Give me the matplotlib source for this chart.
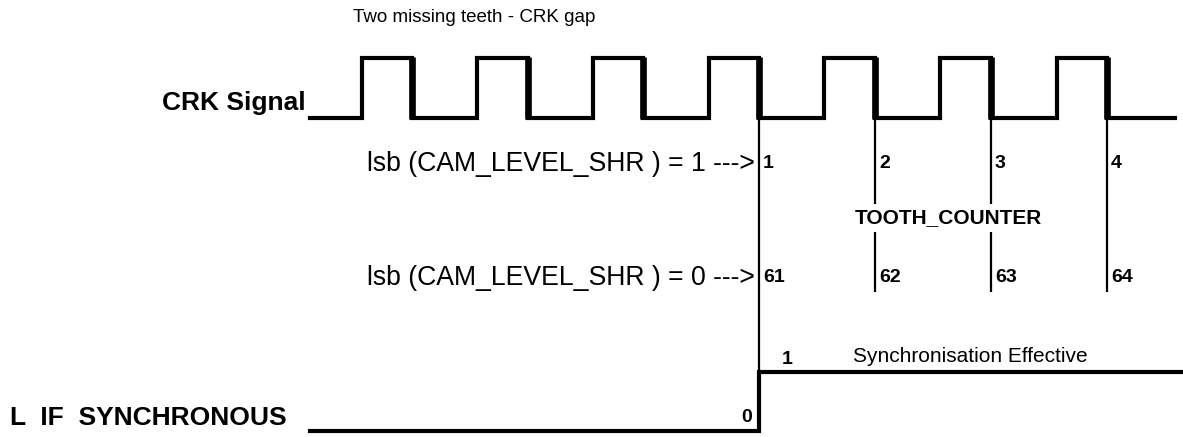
import matplotlib.pyplot as plt
from matplotlib.patches import Rectangle

# diagramme temporel CRK / synchronisation (axe x en "temps" = pixels du dessin)
crk_debut, crk_fin = 310, 1175
fronts_montants = [362, 477, 593, 709, 824, 940, 1057]
fronts_descendants = [412, 528, 643, 759, 875, 991, 1107]
idx_sync = 3  # premier front descendant apres le gap

compteur_lsb1 = ["1", "2", "3", "4"]
compteur_lsb0 = ["61", "62", "63", "64"]

sync_debut, sync_fin = 310, 1183
sync_niveaux = [0, 1]

# niveaux verticaux (y vers le bas)
crk_bas, crk_haut = 118, 58
sync_bas, sync_haut = 431, 372

plt.rcParams['font.family'] = ['Liberation Sans', 'DejaVu Sans']

fig = plt.figure(figsize=(11.83, 4.37), dpi=100)
ax = fig.add_axes([0, 0, 1, 1])
ax.set_xlim(0, 1183)
ax.set_ylim(437, 0)
ax.axis('off')

# signal CRK
xs, ys = [crk_debut], [crk_bas]
for r, f in zip(fronts_montants, fronts_descendants):
    xs += [r, r, f, f]
    ys += [crk_bas, crk_haut, crk_haut, crk_bas]
xs.append(crk_fin)
ys.append(crk_bas)
ax.plot(xs, ys, color='black', lw=3, solid_joinstyle='miter')
# fronts descendants plus epais
ax.vlines(fronts_descendants, crk_haut - 1, crk_bas + 1, color='black', lw=4.8)

# traits de comptage
t_sync = fronts_descendants[idx_sync]
ax.vlines(t_sync, crk_bas, sync_haut, color='black', lw=1.6)
ax.vlines(fronts_descendants[idx_sync + 1:], crk_bas, 292, color='black', lw=1.6)

for t, a, b in zip(fronts_descendants[idx_sync:], compteur_lsb1, compteur_lsb0):
    ax.text(t + 4, 164, a, fontsize=14, fontweight='bold', ha='left', va='center')
    ax.text(t + 4, 278, b, fontsize=14, fontweight='bold', ha='left', va='center')

ax.text(948, 218, "TOOTH_COUNTER", fontsize=15, fontweight='bold', ha='center', va='center',
        bbox=dict(facecolor='white', edgecolor='none', pad=3))

ax.text(t_sync - 4, 164, "lsb (CAM_LEVEL_SHR ) = 1 --->", fontsize=19.2, ha='right', va='center')
ax.text(t_sync - 4, 278, "lsb (CAM_LEVEL_SHR ) = 0 --->", fontsize=19.2, ha='right', va='center')

# signal de synchronisation
sx = [sync_debut, t_sync, t_sync, sync_fin]
niv = {0: sync_bas, 1: sync_haut}
sy = [niv[sync_niveaux[0]], niv[sync_niveaux[0]], niv[sync_niveaux[1]], niv[sync_niveaux[1]]]
ax.plot(sx, sy, color='black', lw=3, solid_joinstyle='miter')

ax.text(t_sync - 7, 418, "0", fontsize=14, fontweight='bold', ha='right', va='center')
ax.text(t_sync + 28, 359, "1", fontsize=14, fontweight='bold', ha='center', va='center')
ax.text(853, 357, "Synchronisation Effective", fontsize=15, ha='left', va='center')

# titres
ax.text(353, 18, "Two missing teeth - CRK gap", fontsize=13.5, ha='left', va='center')
crk = ax.text(306, 103, "CRK Signal", fontsize=19, fontweight='bold', ha='right', va='center')
# le bas du "g" est coupe dans l'original
crk.set_clip_path(Rectangle((0, 0), 310, 115, transform=ax.transData))
ax.text(10, 418, "L  IF  SYNCHRONOUS", fontsize=19, fontweight='bold', ha='left', va='center')

fig.savefig("out.png", dpi=100)
